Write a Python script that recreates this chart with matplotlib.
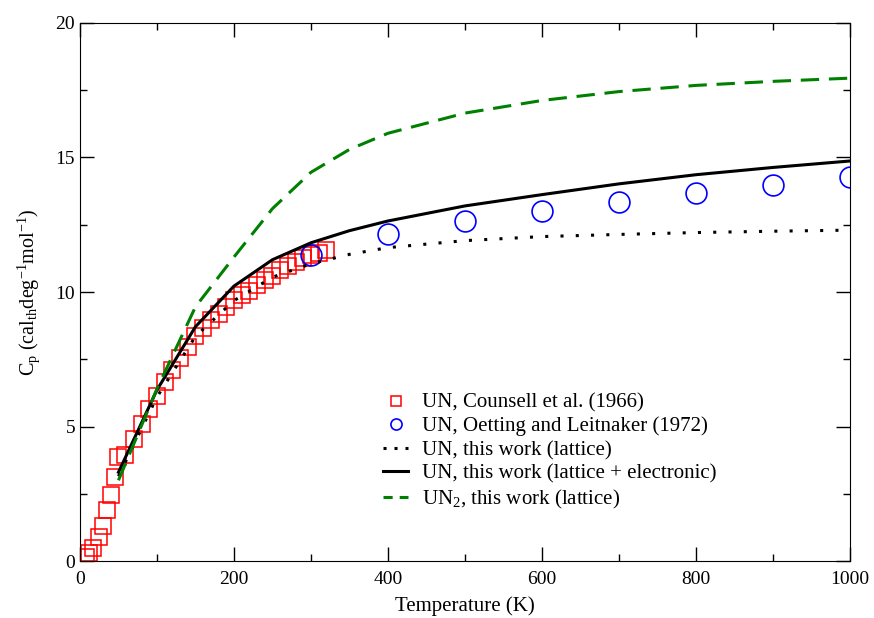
import matplotlib
matplotlib.use("Agg")
import matplotlib.pyplot as plt
from matplotlib.ticker import MultipleLocator

plt.rcParams["font.family"] = ["Liberation Serif", "DejaVu Serif"]
plt.rcParams["mathtext.fontset"] = "custom"
plt.rcParams["mathtext.rm"] = "Liberation Serif"
plt.rcParams["mathtext.it"] = "Liberation Serif:italic"

# Counsell et al. (1966), UN
counsell_t = [8, 12, 17, 25, 30, 35, 40, 45, 49, 58, 70, 80, 90, 100, 110, 120,
              130, 140, 150, 160, 170, 180, 190, 200, 210, 220, 230, 240, 250,
              260, 270, 280, 290, 300, 310, 320]
counsell_cp = [0.15, 0.28, 0.47, 0.88, 1.31, 1.9, 2.47, 3.12, 3.85, 3.93, 4.55,
               5.1, 5.65, 6.15, 6.65, 7.1, 7.55, 7.95, 8.35, 8.65, 8.95, 9.2,
               9.45, 9.7, 9.9, 10.05, 10.25, 10.45, 10.6, 10.8, 10.95, 11.1,
               11.25, 11.38, 11.45, 11.55]

# Oetting and Leitnaker (1972), UN
oetting_t = [300, 400, 500, 600, 700, 800, 900, 1000]
oetting_cp = [11.36, 12.14, 12.63, 13.02, 13.36, 13.69, 13.98, 14.26]

# this work
calc_t = [50, 100, 150, 200, 250, 300, 350, 400, 500, 600, 700, 800, 900, 1000]
un_lattice = [3.15, 6.1, 8.35, 9.68, 10.55, 11.05, 11.4, 11.65, 11.91, 12.06,
              12.14, 12.21, 12.26, 12.3]
un_lattice_el = [3.3, 6.36, 8.71, 10.22, 11.2, 11.83, 12.28, 12.64, 13.2, 13.62,
                 14.02, 14.36, 14.63, 14.87]
un2_lattice = [3.0, 6.4, 9.45, 11.3, 13.1, 14.45, 15.3, 15.9, 16.65, 17.12,
               17.45, 17.68, 17.83, 17.95]

fig = plt.figure(figsize=(8.74, 6.18), dpi=100)
ax = fig.add_axes([0.0915, 0.0922, 0.881, 0.8706])

ax.plot(counsell_t, counsell_cp, linestyle="none", marker="s", markersize=11,
        markerfacecolor="none", markeredgecolor="#ff0000", markeredgewidth=1.1,
        label="UN, Counsell et al. (1966)")
ax.plot(oetting_t, oetting_cp, linestyle="none", marker="o", markersize=15,
        markerfacecolor="none", markeredgecolor="#0000ff", markeredgewidth=1.2,
        label="UN, Oetting and Leitnaker (1972)")
ax.plot(calc_t, un_lattice, color="black", linewidth=2.2,
        linestyle=(0, (1, 4)), label="UN, this work (lattice)")
ax.plot(calc_t, un_lattice_el, color="black", linewidth=2.2,
        label="UN, this work (lattice + electronic)")
ax.plot(calc_t, un2_lattice, color="#008000", linewidth=2.2,
        linestyle=(0, (6, 3.2)), label="UN$_2$, this work (lattice)")

ax.set_xlim(0, 1000)
ax.set_ylim(0, 20)
ax.xaxis.set_major_locator(MultipleLocator(200))
ax.xaxis.set_minor_locator(MultipleLocator(100))
ax.yaxis.set_major_locator(MultipleLocator(5))
ax.yaxis.set_minor_locator(MultipleLocator(2.5))
ax.tick_params(which="both", direction="in", top=True, right=True,
               labelsize=14)
ax.tick_params(axis="x", pad=7)
ax.tick_params(which="major", length=10, width=1)
ax.tick_params(which="minor", length=5, width=1)

ax.set_xlabel("Temperature (K)", fontsize=15, labelpad=6)
ax.set_ylabel(r"C$_\mathrm{p}$ (cal$_\mathrm{th}$deg$^\mathrm{-1}$mol$^\mathrm{-1}$)",
              fontsize=14.5, labelpad=10)

leg = ax.legend(loc="upper left", bbox_to_anchor=(0.375, 0.339), frameon=False,
                fontsize=15, handlelength=1.2, handletextpad=0.67,
                labelspacing=0.19, borderpad=0.2)
leg.legend_handles[0].set_markersize(7)
leg.legend_handles[1].set_markersize(8)
leg.legend_handles[2].set_linestyle((0, (1, 2.6)))
leg.legend_handles[4].set_linestyle((0, (3, 2.3)))

fig.savefig("out.png", dpi=100)
